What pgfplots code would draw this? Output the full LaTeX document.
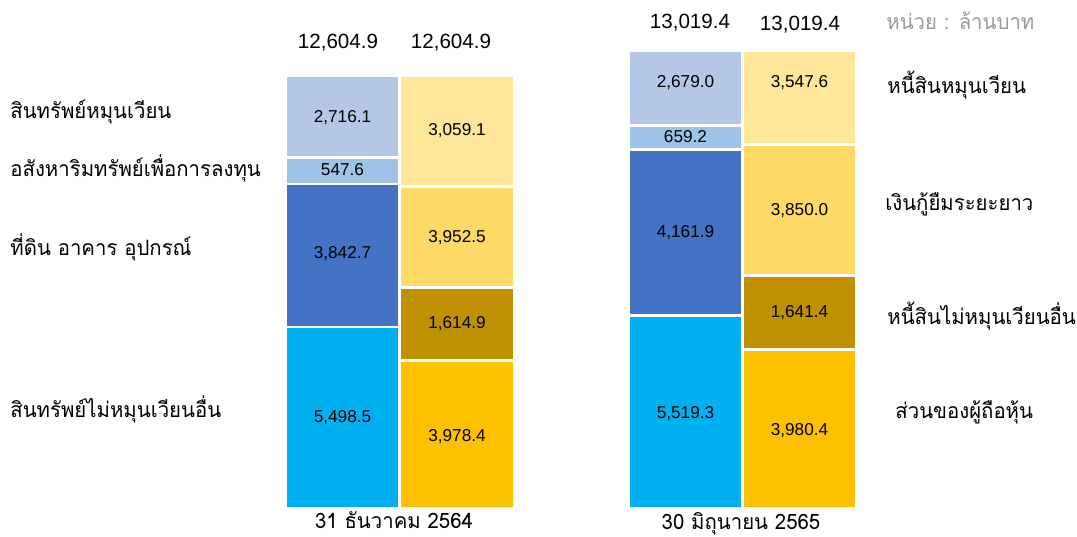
\documentclass[border=0pt]{standalone}
\usepackage{pgfplots}
\pgfplotsset{compat=1.18}
\usepackage{pgfplotstable}
\usepackage{fontspec}
\setmainfont{Liberation Sans}
\newfontfamily\thaifont[Script=Thai, FakeStretch=0.96]{Loma}

\definecolor{aPale}{HTML}{B4C7E7}
\definecolor{aLight}{HTML}{9DC3E6}
\definecolor{aBlue}{HTML}{4472C4}
\definecolor{aCyan}{HTML}{00B0F0}
\definecolor{lPale}{HTML}{FFE699}
\definecolor{lLight}{HTML}{FFD966}
\definecolor{lDark}{HTML}{BF9000}
\definecolor{lGold}{HTML}{FFC000}
\definecolor{unitgray}{HTML}{9A9A9A}

% drawn segment heights (the picture is schematic, not to scale)
\pgfplotstableread{
x     noncur  ppe   invprop cur
342.5 181     143   26.5    81.5
685.5 192.5   166   24      74.5
}\assets
\pgfplotstableread{
x     equity  othnc lterm   cur
457   147.5   73    101     110.5
799.5 158.5   74    131     93.5
}\liabs
% values written in each segment
\pgfplotstableread{
x     y    label
342.5 385  2,716.1
342.5 332  547.6
342.5 249  3,842.7
342.5 85   5,498.5
457   372  3,059.1
457   265  3,952.5
457   179  1,614.9
457   67   3,978.4
685.5 420  2,679.0
685.5 365  659.2
685.5 270  4,161.9
685.5 90   5,519.3
799.5 420  3,547.6
799.5 292  3,850.0
799.5 190  1,641.4
799.5 72   3,980.4
}\vals
\pgfplotstableread{
x   y    label
338 459  12,604.9
451 459  12,604.9
690 479  13,019.4
800 477  13,019.4
}\totals

\pgfplotsset{
  base/.style={scale only axis, width=538.5pt, height=268pt,
    xmin=0, xmax=1077, ymin=-28, ymax=508, hide axis, clip=false},
  bars/.style={base, ybar stacked, bar width=114,
    every axis plot/.append style={draw=white, line width=1.2pt}},
}

\begin{document}
\begin{tikzpicture}
\begin{axis}[bars]
  \addplot[fill=aCyan]  table[x=x, y=noncur]  {\assets};
  \addplot[fill=aBlue]  table[x=x, y=ppe]     {\assets};
  \addplot[fill=aLight] table[x=x, y=invprop] {\assets};
  \addplot[fill=aPale]  table[x=x, y=cur]     {\assets};
\end{axis}
\begin{axis}[bars]
  \addplot[fill=lGold]  table[x=x, y=equity] {\liabs};
  \addplot[fill=lDark]  table[x=x, y=othnc]  {\liabs};
  \addplot[fill=lLight] table[x=x, y=lterm]  {\liabs};
  \addplot[fill=lPale]  table[x=x, y=cur]    {\liabs};
\end{axis}
\begin{axis}[base,
    every node near coord/.append style={anchor=base, inner sep=0pt}]
  \addplot[draw=none, mark=none, nodes near coords, point meta=explicit symbolic,
    every node near coord/.append style={font=\fontsize{8.6}{10}\selectfont}]
    table[x=x, y=y, meta=label] {\vals};
  \addplot[draw=none, mark=none, nodes near coords, point meta=explicit symbolic,
    every node near coord/.append style={font=\fontsize{10.3}{12}\selectfont}]
    table[x=x, y=y, meta=label] {\totals};

  \begin{scope}[every node/.style={anchor=base west, inner sep=0pt,
      font=\thaifont\fontsize{10.6}{13}\selectfont}]
    \node at (axis cs:10,389) {สินทรัพย์หมุนเวียน};
    \node at (axis cs:10,331) {อสังหาริมทรัพย์เพื่อการลงทุน};
    \node at (axis cs:10,252) {ที่ดิน อาคาร อุปกรณ์};
    \node at (axis cs:10,91)  {สินทรัพย์ไม่หมุนเวียนอื่น};
    \node at (axis cs:887,414) {หนี้สินหมุนเวียน};
    \node at (axis cs:885,297) {เงินกู้ยืมระยะยาว};
    \node at (axis cs:887,183) {หนี้สินไม่หมุนเวียนอื่น};
    \node at (axis cs:895,89)  {ส่วนของผู้ถือหุ้น};
    \node[text=unitgray] at (axis cs:886,478) {หน่วย : ล้านบาท};
  \end{scope}
  \node[anchor=base, inner sep=0pt, font=\thaifont\fontsize{10.6}{13}\selectfont]
    at (axis cs:394,-20) {31 ธันวาคม 2564};
  \node[anchor=base, inner sep=0pt, font=\thaifont\fontsize{10.6}{13}\selectfont]
    at (axis cs:741,-21) {30 มิถุนายน 2565};
\end{axis}
\pgfresetboundingbox
\path[use as bounding box] (0,0) rectangle (538.5pt,268pt);
\end{tikzpicture}
\end{document}
